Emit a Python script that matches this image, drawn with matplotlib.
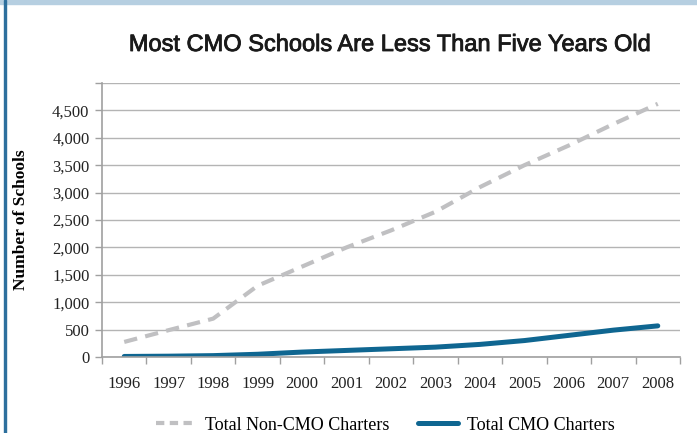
import matplotlib
matplotlib.use("Agg")
import matplotlib.pyplot as plt
import matplotlib.patheffects as pe
from matplotlib.lines import Line2D
from matplotlib.patches import Rectangle
from matplotlib.ticker import FuncFormatter

# dados
anos = [1996, 1997, 1998, 1999, 2000, 2001, 2002, 2003, 2004, 2005, 2006, 2007, 2008]
non_cmo = [275, 490, 700, 1300, 1650, 2000, 2310, 2650, 3100, 3500, 3860, 4250, 4620]
cmo = [10, 15, 25, 50, 90, 120, 150, 180, 230, 300, 395, 490, 568]

titulo = "Most CMO Schools Are Less Than Five Years Old"
rotulo_y = "Number of Schools"
nomes = ["Total Non-CMO Charters", "Total CMO Charters"]

COR_CINZA = "#c0c0c2"
COR_AZUL = "#0f6691"
COR_GRADE = "#b4b4b4"
SERIF = "Liberation Serif"

fig = plt.figure(figsize=(6.97, 4.33), dpi=100)

# moldura (faixa azul no topo e linha a esquerda)
fig.patches.append(Rectangle((0, 1 - 4 / 433), 1, 4 / 433, transform=fig.transFigure,
                             color="#b6cfe1", zorder=0))
fig.patches.append(Rectangle((4 / 697, 0), 2 / 697, 1, transform=fig.transFigure,
                             color="#2d6f9d", zorder=0))

ax = fig.add_axes([102 / 697, 1 - 357 / 433, (680 - 102) / 697, (357 - 83) / 433])

ax.plot(anos, non_cmo, color=COR_CINZA, lw=3.0, dashes=(3.2, 2.0), solid_capstyle="butt")
ax.plot(anos, cmo, color=COR_AZUL, lw=3.6, solid_capstyle="round")

ax.set_xlim(1995.5, 2008.5)
ax.set_ylim(0, 5000)
ax.set_yticks(range(0, 5001, 500))
ax.yaxis.set_major_formatter(FuncFormatter(lambda v, p: "" if v == 5000 else f"{int(v):,}"))
ax.set_xticks(anos)
ax.set_xticks([a + 0.5 for a in [1995] + anos], minor=True)
ax.tick_params(axis="x", which="major", length=0, pad=14)
ax.tick_params(axis="x", which="minor", length=5, color="#a0a0a0", width=1)
ax.tick_params(axis="y", length=5, color="#a0a0a0", width=1, pad=4)
for lab in ax.get_xticklabels() + ax.get_yticklabels():
    lab.set_fontfamily(SERIF)
    lab.set_fontsize(12)
    lab.set_color("#222222")

ax.grid(axis="y", color=COR_GRADE, lw=1)
ax.set_axisbelow(True)
for lado in ["top", "right"]:
    ax.spines[lado].set_visible(False)
for lado in ["left", "bottom"]:
    ax.spines[lado].set_color("#a0a0a0")
    ax.spines[lado].set_linewidth(1.2)

ax.set_ylabel(rotulo_y, fontfamily=SERIF, fontweight="bold", fontsize=12.5, labelpad=17)

fig.text(0.56, 1 - 45 / 433, titulo, ha="center", va="center",
         fontfamily="Liberation Sans", fontsize=17, color="#1a1a1a",
         path_effects=[pe.withStroke(linewidth=0.6, foreground="#1a1a1a")])

handles = [Line2D([], [], color=COR_CINZA, lw=3.0, dashes=(2.0, 1.3)),
           Line2D([], [], color=COR_AZUL, lw=3.6, solid_capstyle="round")]
fig.legend(handles, nomes, loc="center", bbox_to_anchor=(0.553, 1 - 425 / 433), ncol=2,
           frameon=False, prop={"family": SERIF, "size": 13}, handlelength=2.2,
           columnspacing=1.6, handletextpad=0.5)

fig.savefig("out.png", dpi=100)
